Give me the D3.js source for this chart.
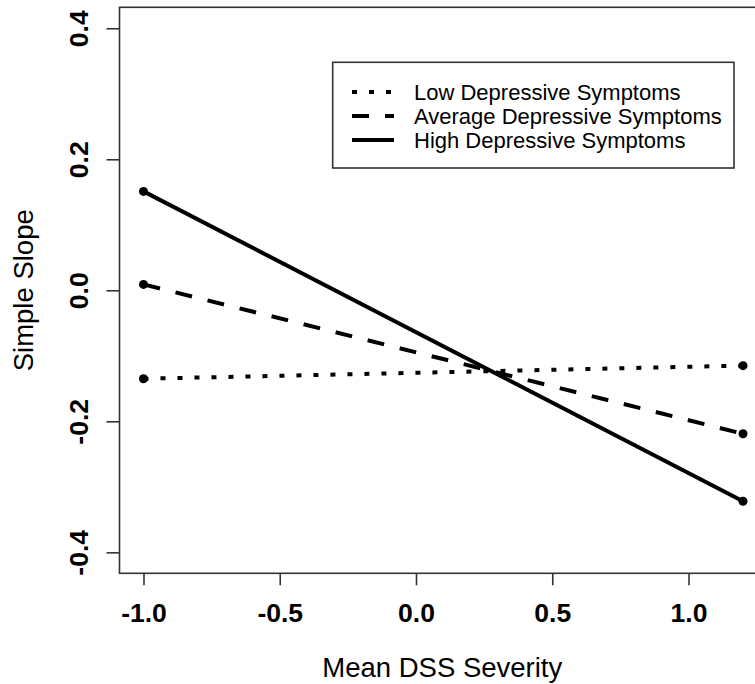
<!DOCTYPE html>
<html>
<head>
<meta charset="utf-8">
<script src="https://cdn.jsdelivr.net/npm/d3@7"></script>
<style>
  html, body { margin: 0; padding: 0; background: #fff; }
  svg { display: block; font-family: "Liberation Sans", Arial, sans-serif; }
</style>
</head>
<body>
<svg id="chart" width="755" height="684"></svg>
<script>
// ---- data ----
const xValues = [-1.0, 1.2];
const lowValues = [-0.135, -0.115];
const averageValues = [0.009, -0.219];
const highValues = [0.151, -0.322];
const seriesNames = ["Low Depressive Symptoms", "Average Depressive Symptoms", "High Depressive Symptoms"];
const xTicks = [-1.0, -0.5, 0.0, 0.5, 1.0];
const yTicks = [-0.4, -0.2, 0.0, 0.2, 0.4];
const xTitle = "Mean DSS Severity";
const yTitle = "Simple Slope";

// ---- layout ----
const svg = d3.select("#chart");
const plot = { left: 119.5, right: 767, top: 7.3, bottom: 573.3 };

const x = d3.scaleLinear().domain([-1.088, 1.288]).range([plot.left, plot.right]);
const y = d3.scaleLinear().domain([-0.432, 0.432]).range([plot.bottom, plot.top]);
const fmt = d => d.toFixed(1);

const series = [
  { name: seriesNames[0], values: lowValues, dash: "5,12" },
  { name: seriesNames[1], values: averageValues, dash: "17,16" },
  { name: seriesNames[2], values: highValues, dash: null }
];

// clip
svg.append("defs").append("clipPath").attr("id", "clip")
  .append("rect")
  .attr("x", plot.left).attr("y", plot.top)
  .attr("width", plot.right - plot.left).attr("height", plot.bottom - plot.top);

// lines and points
const g = svg.append("g").attr("clip-path", "url(#clip)");
const line = d3.line().x(d => x(d[0])).y(d => y(d[1]));
series.forEach(s => {
  const pts = xValues.map((xv, i) => [xv, s.values[i]]);
  g.append("path")
    .attr("d", line(pts))
    .attr("fill", "none")
    .attr("stroke", "#000")
    .attr("stroke-width", 4)
    .attr("stroke-dasharray", s.dash);
  g.selectAll(null).data(pts).enter().append("circle")
    .attr("cx", d => x(d[0])).attr("cy", d => y(d[1]))
    .attr("r", 4.5).attr("fill", "#000");
});

// plot box
svg.append("rect")
  .attr("x", plot.left).attr("y", plot.top)
  .attr("width", plot.right - plot.left).attr("height", plot.bottom - plot.top)
  .attr("fill", "none").attr("stroke", "#333").attr("stroke-width", 1.6);

// x axis
const xAxis = d3.axisBottom(x).tickValues(xTicks).tickSize(12).tickPadding(0)
  .tickFormat(fmt);
const gx = svg.append("g").attr("transform", `translate(0,${plot.bottom})`).call(xAxis);
gx.select(".domain").remove();
gx.selectAll(".tick line").attr("stroke", "#333").attr("stroke-width", 1.6);
gx.selectAll(".tick text")
  .attr("y", 48.5).attr("dy", null)
  .attr("font-size", 26.5).attr("font-weight", "bold")
  .attr("font-family", "Liberation Sans, Arial, sans-serif").attr("fill", "#000");

// y axis
const yAxis = d3.axisLeft(y).tickValues(yTicks).tickSize(13).tickPadding(0)
  .tickFormat(fmt);
const gy = svg.append("g").attr("transform", `translate(${plot.left},0)`).call(yAxis);
gy.select(".domain").remove();
gy.selectAll(".tick line").attr("stroke", "#333").attr("stroke-width", 1.6);
gy.selectAll(".tick text")
  .attr("x", null).attr("dy", null)
  .attr("text-anchor", "middle")
  .attr("transform", `translate(${88 - plot.left},0) rotate(-90)`)
  .attr("font-size", 26.5).attr("font-weight", "bold")
  .attr("font-family", "Liberation Sans, Arial, sans-serif").attr("fill", "#000");

// titles
svg.append("text")
  .attr("x", (plot.left + plot.right) / 2 - 1).attr("y", 677)
  .attr("text-anchor", "middle").attr("font-size", 27.5).attr("fill", "#000")
  .text(xTitle);
svg.append("text")
  .attr("transform", `translate(33,${(plot.top + plot.bottom) / 2}) rotate(-90)`)
  .attr("text-anchor", "middle").attr("font-size", 27.5).attr("fill", "#000")
  .text(yTitle);

// legend
const legend = svg.append("g");
legend.append("rect")
  .attr("x", 332.7).attr("y", 62.3).attr("width", 734 - 332.7).attr("height", 168 - 62.3)
  .attr("fill", "#fff").attr("stroke", "#333").attr("stroke-width", 1.6);
series.forEach((s, i) => {
  const yy = 92 + i * 24;
  legend.append("line")
    .attr("x1", 352).attr("x2", 394).attr("y1", yy).attr("y2", yy)
    .attr("stroke", "#000").attr("stroke-width", 4)
    .attr("stroke-dasharray", s.dash);
  legend.append("text")
    .attr("x", 414).attr("y", yy + 7.5)
    .attr("font-size", 22).attr("fill", "#000")
    .text(s.name);
});
</script>
</body>
</html>
